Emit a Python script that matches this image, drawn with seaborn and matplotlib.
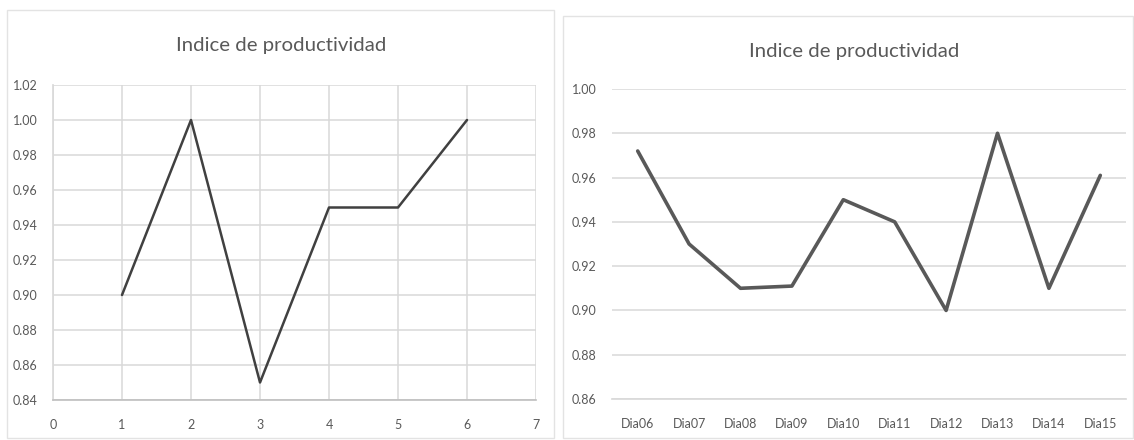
import matplotlib
matplotlib.use("Agg")
import matplotlib.pyplot as plt
from matplotlib.patches import Rectangle
import seaborn as sns
import pandas as pd

# Productividad por periodo (gráfico izquierdo)
periodos = [1, 2, 3, 4, 5, 6]
indice_periodo = [0.90, 1.00, 0.85, 0.95, 0.95, 1.00]

# Productividad diaria (gráfico derecho)
dias = ["Dia06", "Dia07", "Dia08", "Dia09", "Dia10",
        "Dia11", "Dia12", "Dia13", "Dia14", "Dia15"]
indice_dia = [0.972, 0.93, 0.91, 0.911, 0.95, 0.94, 0.90, 0.98, 0.91, 0.961]

titulo = "Indice de productividad"

sns.set_theme(style="white")
plt.rcParams["font.family"] = ["Lato", "DejaVu Sans"]

W, H = 1134, 440
fig = plt.figure(figsize=(W / 100, H / 100), dpi=100)
fig.patch.set_facecolor("white")

TXT = "#595959"
GRID = "#d9d9d9"


def box(x0, y0, x1, y1):
    """Axes rectangle from pixel coordinates (top-left origin)."""
    return [x0 / W, 1 - y1 / H, (x1 - x0) / W, (y1 - y0) / H]


# Chart-area borders
for x0, y0, x1, y1 in [(7, 10, 554, 438), (563, 16, 1133, 438)]:
    fig.patches.append(Rectangle((x0 / W, 1 - y1 / H), (x1 - x0) / W, (y1 - y0) / H,
                                 transform=fig.transFigure, fill=False,
                                 edgecolor="#e3e3e3", linewidth=1.0))

# ---- Left chart: scatter with straight lines ----
ax1 = fig.add_axes(box(53, 85, 536, 400))
df1 = pd.DataFrame({"periodo": periodos, "indice": indice_periodo})
sns.lineplot(data=df1, x="periodo", y="indice", ax=ax1, color="#404040",
             linewidth=1.8, sort=False)
ax1.set_xlim(0, 7)
ax1.set_ylim(0.84, 1.02)
ax1.set_xticks(range(0, 8))
ax1.set_yticks([0.84 + 0.02 * i for i in range(10)])
ax1.set_yticklabels([f"{0.84 + 0.02 * i:.2f}" for i in range(10)])
ax1.grid(True, color=GRID, linewidth=1.1)
ax1.set_axisbelow(True)
for s in ["top", "right"]:
    ax1.spines[s].set_visible(False)
ax1.spines["left"].set_color(GRID)
ax1.spines["bottom"].set_color("#bfbfbf")
ax1.spines["bottom"].set_linewidth(1.2)
ax1.tick_params(axis="both", length=0, labelsize=9, labelcolor=TXT)
ax1.tick_params(axis="x", pad=14)
ax1.tick_params(axis="y", pad=11)
ax1.set_xlabel("")
ax1.set_ylabel("")
fig.text(281 / W, 1 - 45 / H, titulo, ha="center", va="center",
         fontsize=14.7, color=TXT)

# ---- Right chart: line over categories ----
ax2 = fig.add_axes(box(612, 89, 1126, 399))
df2 = pd.DataFrame({"dia": dias, "indice": indice_dia})
sns.lineplot(data=df2, x="dia", y="indice", ax=ax2, color="#595959",
             linewidth=2.6, sort=False)
ax2.set_xlim(-0.5, len(dias) - 0.5)
ax2.set_ylim(0.86, 1.00)
ax2.set_yticks([0.86 + 0.02 * i for i in range(8)])
ax2.set_yticklabels([f"{0.86 + 0.02 * i:.2f}" for i in range(8)])
ax2.yaxis.grid(True, color=GRID, linewidth=1.1)
ax2.xaxis.grid(False)
ax2.set_axisbelow(True)
for s in ["top", "right", "left"]:
    ax2.spines[s].set_visible(False)
ax2.spines["bottom"].set_color(GRID)
ax2.tick_params(axis="both", length=0, labelsize=9, labelcolor=TXT)
ax2.tick_params(axis="x", pad=14)
ax2.tick_params(axis="y", pad=11)
ax2.set_xlabel("")
ax2.set_ylabel("")
fig.text(854 / W, 1 - 52 / H, titulo, ha="center", va="center",
         fontsize=14.7, color=TXT)

fig.savefig("out.png", dpi=100)
